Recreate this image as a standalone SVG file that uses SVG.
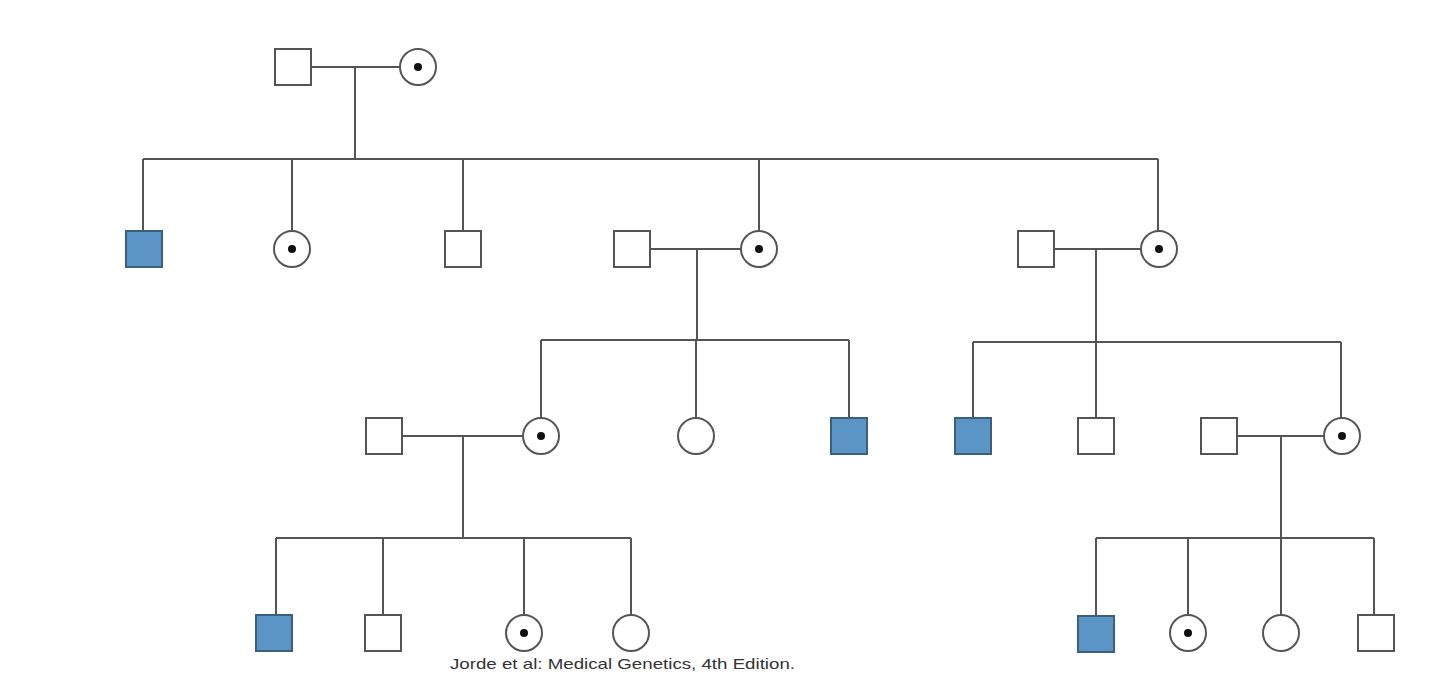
<svg xmlns="http://www.w3.org/2000/svg" width="1440" height="676" viewBox="0 0 1440 676">
<style>
.l{stroke:#555;stroke-width:2;fill:none}
.s{fill:#fff;stroke:#555;stroke-width:2}
.a{fill:#5b95c6;stroke:#3d5f7e;stroke-width:2}
.d{fill:#111}
text{font-family:"Liberation Sans",Arial,sans-serif;font-size:15px;fill:#333}
</style>
<defs>
<rect id="sq" class="s" x="-18" y="-18" width="36" height="36"/>
<rect id="af" class="a" x="-18" y="-18" width="36" height="36"/>
<circle id="ci" class="s" r="18"/>
<g id="ca"><circle class="s" r="18"/><circle class="d" r="4"/></g>
</defs>
<rect width="1440" height="676" fill="#fff"/>
<g id="connectors">
<path class="l" d="M311 67H400M355 67V159M143 159H1158M143 159V231M292 159V231M463 159V231M759 159V231M1158 159V231"/>
<path class="l" d="M650 249H741M697 249V340M541 340H849M541 340V418M696 340V418M849 340V418"/>
<path class="l" d="M1054 249H1141M1096 249V342M973 342H1341M973 342V418M1096 342V418M1341 342V418"/>
<path class="l" d="M402 436H523M463 436V538M276 538H631M276 538V615M383 538V615M524 538V615M631 538V615"/>
<path class="l" d="M1237 436H1324M1281 436V538M1096 538H1374M1096 538V616M1188 538V615M1281 538V615M1374 538V615"/>
</g>
<g id="n1"><use href="#sq" x="293" y="67"/></g>
<g id="n2"><use href="#ca" x="418" y="67"/></g>
<g id="n3"><use href="#af" x="144" y="249"/></g>
<g id="n4"><use href="#ca" x="292" y="249"/></g>
<g id="n5"><use href="#sq" x="463" y="249"/></g>
<g id="n6"><use href="#sq" x="632" y="249"/></g>
<g id="n7"><use href="#ca" x="759" y="249"/></g>
<g id="n8"><use href="#sq" x="1036" y="249"/></g>
<g id="n9"><use href="#ca" x="1159" y="249"/></g>
<g id="n10"><use href="#sq" x="384" y="436"/></g>
<g id="n11"><use href="#ca" x="541" y="436"/></g>
<g id="n12"><use href="#ci" x="696" y="436"/></g>
<g id="n13"><use href="#af" x="849" y="436"/></g>
<g id="n14"><use href="#af" x="973" y="436"/></g>
<g id="n15"><use href="#sq" x="1096" y="436"/></g>
<g id="n16"><use href="#sq" x="1219" y="436"/></g>
<g id="n17"><use href="#ca" x="1342" y="436"/></g>
<g id="n18"><use href="#af" x="274" y="633"/></g>
<g id="n19"><use href="#sq" x="383" y="633"/></g>
<g id="n20"><use href="#ca" x="524" y="633"/></g>
<g id="n21"><use href="#ci" x="631" y="633"/></g>
<g id="n22"><use href="#af" x="1096" y="634"/></g>
<g id="n23"><use href="#ca" x="1188" y="633"/></g>
<g id="n24"><use href="#ci" x="1281" y="633"/></g>
<g id="n25"><use href="#sq" x="1376" y="633"/></g>
<text x="450" y="669" textLength="345" lengthAdjust="spacingAndGlyphs">Jorde et al: Medical Genetics, 4th Edition.</text>
</svg>
